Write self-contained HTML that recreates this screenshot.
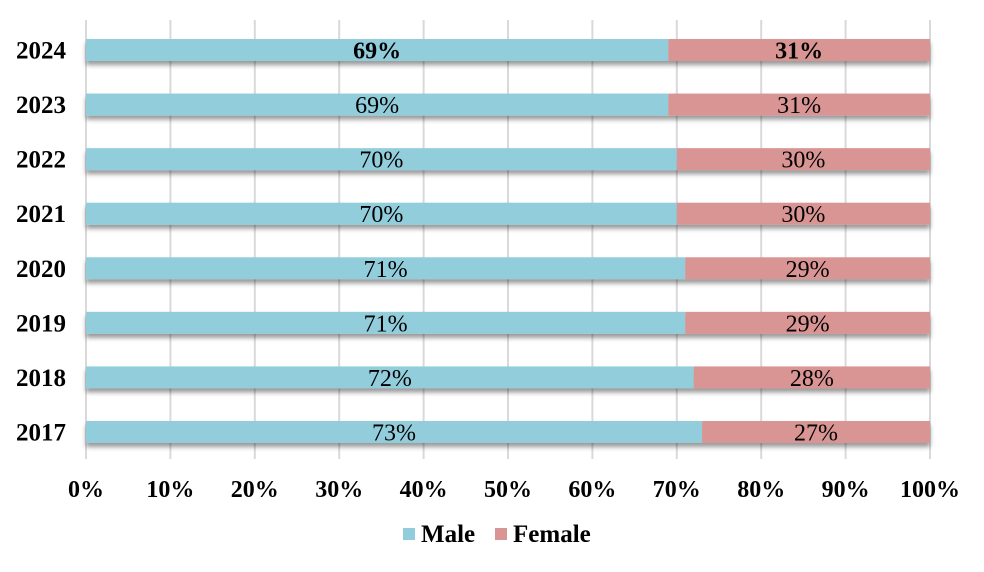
<!DOCTYPE html>
<html><head><meta charset="utf-8"><style>
body{margin:0;background:#fff;}
svg text{font-family:"Liberation Serif",serif;}
</style></head><body>
<svg width="984" height="567" viewBox="0 0 984 567" xmlns="http://www.w3.org/2000/svg">
<defs><filter id="sh" x="-5%" y="-50%" width="110%" height="250%"><feDropShadow dx="0" dy="4" stdDeviation="2.5" flood-color="#000" flood-opacity="0.4"/></filter></defs>
<g stroke="#d9d9d9" stroke-width="2">
<line x1="86" y1="20" x2="86" y2="459"/><line x1="170.4" y1="20" x2="170.4" y2="459"/><line x1="254.8" y1="20" x2="254.8" y2="459"/><line x1="339.2" y1="20" x2="339.2" y2="459"/><line x1="423.6" y1="20" x2="423.6" y2="459"/><line x1="508" y1="20" x2="508" y2="459"/><line x1="592.4" y1="20" x2="592.4" y2="459"/><line x1="676.8" y1="20" x2="676.8" y2="459"/><line x1="761.2" y1="20" x2="761.2" y2="459"/><line x1="845.6" y1="20" x2="845.6" y2="459"/><line x1="930" y1="20" x2="930" y2="459"/>
</g>
<g filter="url(#sh)">
<rect x="86" y="39" width="582.36" height="22" fill="#92cddc"/><rect x="668.36" y="39" width="261.64" height="22" fill="#d99594"/>
<rect x="86" y="93.57" width="582.36" height="22" fill="#92cddc"/><rect x="668.36" y="93.57" width="261.64" height="22" fill="#d99594"/>
<rect x="86" y="148.14" width="590.8" height="22" fill="#92cddc"/><rect x="676.8" y="148.14" width="253.2" height="22" fill="#d99594"/>
<rect x="86" y="202.71" width="590.8" height="22" fill="#92cddc"/><rect x="676.8" y="202.71" width="253.2" height="22" fill="#d99594"/>
<rect x="86" y="257.28" width="599.24" height="22" fill="#92cddc"/><rect x="685.24" y="257.28" width="244.76" height="22" fill="#d99594"/>
<rect x="86" y="311.85" width="599.24" height="22" fill="#92cddc"/><rect x="685.24" y="311.85" width="244.76" height="22" fill="#d99594"/>
<rect x="86" y="366.42" width="607.68" height="22" fill="#92cddc"/><rect x="693.68" y="366.42" width="236.32" height="22" fill="#d99594"/>
<rect x="86" y="420.99" width="616.12" height="22" fill="#92cddc"/><rect x="702.12" y="420.99" width="227.88" height="22" fill="#d99594"/>
</g>
<g font-size="24" text-anchor="middle">
<text x="377.18" y="58.5" font-weight="bold">69%</text><text x="799.18" y="58.5" font-weight="bold">31%</text>
<text x="377.18" y="113">69%</text><text x="799.18" y="113">31%</text>
<text x="381.4" y="167.6">70%</text><text x="803.4" y="167.6">30%</text>
<text x="381.4" y="222.2">70%</text><text x="803.4" y="222.2">30%</text>
<text x="385.62" y="276.8">71%</text><text x="807.62" y="276.8">29%</text>
<text x="385.62" y="331.4">71%</text><text x="807.62" y="331.4">29%</text>
<text x="389.84" y="385.9">72%</text><text x="811.84" y="385.9">28%</text>
<text x="394.06" y="440.5">73%</text><text x="816.06" y="440.5">27%</text>
</g>
<g font-size="25" font-weight="bold" text-anchor="end">
<text x="66" y="58.5">2024</text><text x="66" y="113">2023</text><text x="66" y="167.6">2022</text><text x="66" y="222.2">2021</text><text x="66" y="276.8">2020</text><text x="66" y="331.4">2019</text><text x="66" y="385.9">2018</text><text x="66" y="440.5">2017</text>
</g>
<g font-size="24" font-weight="bold" text-anchor="middle">
<text x="86" y="497">0%</text><text x="170.4" y="497">10%</text><text x="254.8" y="497">20%</text><text x="339.2" y="497">30%</text><text x="423.6" y="497">40%</text><text x="508" y="497">50%</text><text x="592.4" y="497">60%</text><text x="676.8" y="497">70%</text><text x="761.2" y="497">80%</text><text x="845.6" y="497">90%</text><text x="930" y="497">100%</text>
</g>
<rect x="403" y="528" width="12" height="12" fill="#92cddc"/><text x="421" y="542" font-size="25" font-weight="bold">Male</text>
<rect x="495" y="528" width="12" height="12" fill="#d99594"/><text x="513" y="542" font-size="25" font-weight="bold">Female</text>
</svg>
</body></html>
